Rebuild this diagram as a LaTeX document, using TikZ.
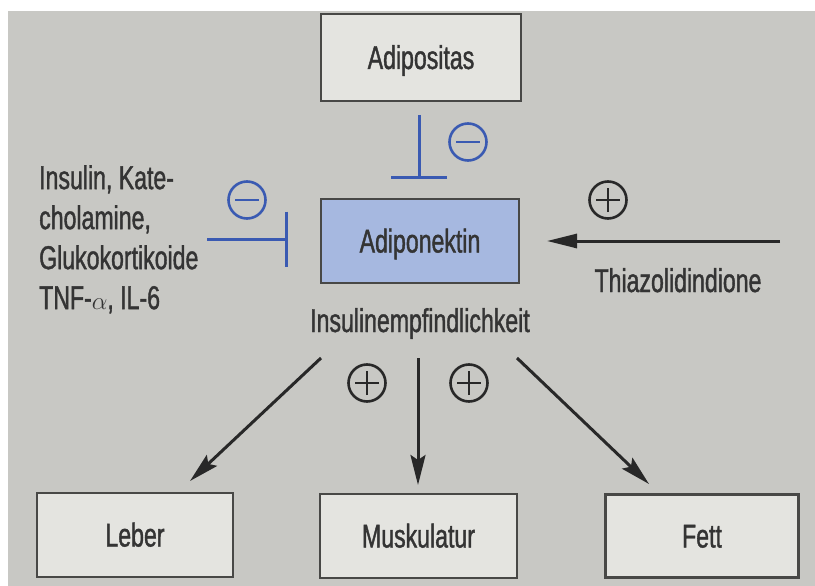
\documentclass[tikz,border=0pt]{standalone}
\usepackage{fontspec}
\setmainfont{Liberation Sans}[FakeStretch=0.7,FakeBold=1.2]
\usetikzlibrary{arrows.meta}
\definecolor{bgcol}{RGB}{200,200,196}
\definecolor{boxfill}{RGB}{228,228,224}
\definecolor{boxline}{RGB}{72,72,70}
\definecolor{adipo}{RGB}{166,184,224}
\definecolor{inhcol}{RGB}{58,90,178}
\definecolor{txtcol}{RGB}{52,52,52}
\definecolor{arrcol}{RGB}{40,40,40}
\tikzset{
  box/.style={draw=boxline, line width=2.8pt, fill=boxfill, inner sep=0pt,
    text height=23pt, text depth=0pt, text=txtcol,
    font=\fontsize{33}{40}\selectfont},
  lbl/.style={inner sep=0pt, text=txtcol, font=\fontsize{33}{40}\selectfont},
  inhib/.style={draw=inhcol, line width=3pt, -{Bar[width=#1]}},
  act/.style={draw=arrcol, line width=3pt, -{Stealth[length=30pt,width=15pt,inset=5pt]}},
  symbase/.style={circle, minimum size=37pt, inner sep=0pt, line width=2.6pt},
  plussym/.style={symbase, draw=arrcol, path picture={
    \draw[line width=2.6pt, arrcol]
      ([xshift=-12pt]path picture bounding box.center) -- ([xshift=12pt]path picture bounding box.center)
      ([yshift=-12pt]path picture bounding box.center) -- ([yshift=12pt]path picture bounding box.center);}},
  minussym/.style={symbase, draw=inhcol, path picture={
    \draw[line width=2.6pt, inhcol]
      ([xshift=-12pt]path picture bounding box.center) -- ([xshift=12pt]path picture bounding box.center);}}
}
\begin{document}
\begin{tikzpicture}[x=1pt,y=-1pt]
\useasboundingbox (0,0) rectangle (815,586);
\fill[white] (0,0) rectangle (815,586);
\fill[bgcol] (8,11) rectangle (815,586);

% boxes
\node[box, minimum width=200pt, minimum height=87pt] (adipositas) at (421,57.5) {Adipositas};
\node[box, fill=adipo, minimum width=198pt, minimum height=84pt] (adiponektin) at (420,241) {Adiponektin};
\node[box, minimum width=196pt, minimum height=84pt] (leber) at (135,535) {Leber};
\node[box, minimum width=197pt, minimum height=84pt] (muskel) at (418.5,536) {Muskulatur};
\node[box, minimum width=193pt, minimum height=83pt] (fett) at (702,536) {Fett};

% labels
\node[lbl, anchor=north west, align=left] (left) at (39,165)
  {Insulin, Kate-\\cholamine,\\Glukokortikoide\\TNF-$\alpha$, IL-6};
\node[lbl, anchor=base] (thiaz) at (678,292) {Thiazolidindione};
\node[lbl, anchor=base] (insemp) at (420,332) {Insulinempfindlichkeit};

% symbols
\node[minussym] (m1) at (468,142) {};
\node[minussym] (m2) at (247,200) {};
\node[plussym] (p1) at (608,200) {};
\node[plussym] (p2) at (367,383) {};
\node[plussym] (p3) at (469,383) {};

% connector end points
\coordinate (a1) at (419,115);
\coordinate (a2) at (419,179);
\coordinate (l1) at (207,239);
\coordinate (l2) at (288,239);
\coordinate (t1) at (780,241);
\coordinate (t2) at (547,241);
\coordinate (b1s) at (321,358);
\coordinate (b1e) at (190,481);
\coordinate (b2s) at (418,358);
\coordinate (b2e) at (418,485);
\coordinate (b3s) at (517,358);
\coordinate (b3e) at (649,484);

% connectors
\draw[inhib=56pt] (a1) -- (a2);
\draw[inhib=55pt] (l1) -- (l2);
\draw[act, -{Triangle[length=30pt,width=14pt]}] (t1) -- (t2);
\draw[act] (b1s) -- (b1e);
\draw[act] (b2s) -- (b2e);
\draw[act] (b3s) -- (b3e);
\end{tikzpicture}
\end{document}
